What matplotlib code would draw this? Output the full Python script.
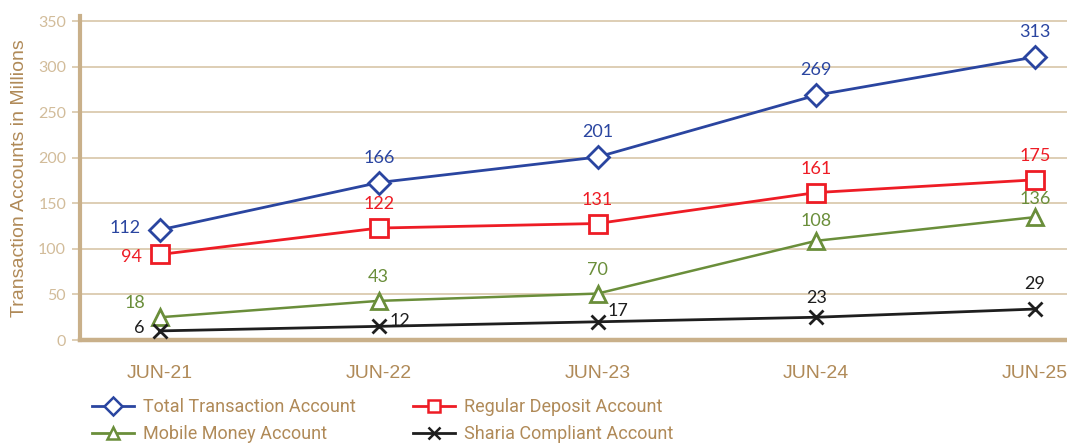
import matplotlib
matplotlib.use("Agg")
import matplotlib.pyplot as plt
from matplotlib.lines import Line2D

categories = ["JUN-21", "JUN-22", "JUN-23", "JUN-24", "JUN-25"]

total_vals = [121, 173, 201, 269, 311]
regular_vals = [94, 123, 128, 162, 176]
mobile_vals = [25, 43, 51, 109, 135]
sharia_vals = [10, 15, 20, 25, 34]

total_labels = ["112", "166", "201", "269", "313"]
regular_labels = ["94", "122", "131", "161", "175"]
mobile_labels = ["18", "43", "70", "108", "136"]
sharia_labels = ["6", "12", "17", "23", "29"]

series_names = ["Total Transaction Account", "Regular Deposit Account",
                "Mobile Money Account", "Sharia Compliant Account"]

plt.rcParams['font.family'] = ['Lato', 'DejaVu Sans']

BLUE = "#2a45a0"
RED = "#ee1c25"
GREEN = "#6a8e3a"
BLACK = "#1e1e1e"
TAN = "#c9b08a"
GRID = "#d8c6a8"
BROWN = "#b08a58"

fig = plt.figure(figsize=(10.67, 4.43), dpi=100)
ax = fig.add_axes([80/1067, 1-340/443, 1-80/1067, (340-16)/443])

x = list(range(len(categories)))

ax.plot(x, total_vals, color=BLUE, lw=2.0, marker='D', ms=11.5, mfc='white', mec=BLUE, mew=2.0, zorder=5)
ax.plot(x, regular_vals, color=RED, lw=2.0, marker='s', ms=13, mfc='white', mec=RED, mew=2.0, zorder=5)
ax.plot(x, mobile_vals, color=GREEN, lw=1.8, marker='^', ms=12, mfc='white', mec=GREEN, mew=2.0, zorder=5)
ax.plot(x, sharia_vals, color=BLACK, lw=2.0, marker='x', ms=9.5, mec=BLACK, mew=2.0, zorder=5)

fs = 13

def lab(xs, ys, texts, color, offs):
    for xi, yi, t, (dx, dy, ha) in zip(xs, ys, texts, offs):
        ax.annotate(t, (xi, yi), xytext=(dx, dy), textcoords='offset points',
                    ha=ha, va='center', color=color, fontsize=fs, zorder=6)

lab(x, total_vals, total_labels, BLUE,
    [(-14, 1, 'right'), (0, 18, 'center'), (0, 18, 'center'), (0, 18, 'center'), (0, 18, 'center')])
lab(x, regular_vals, regular_labels, RED,
    [(-13, -2, 'right'), (0, 17, 'center'), (0, 17, 'center'), (0, 17, 'center'), (0, 17, 'center')])
lab(x, mobile_vals, mobile_labels, GREEN,
    [(-18, 10, 'center'), (0, 17, 'center'), (0, 17, 'center'), (0, 14.5, 'center'), (0, 13, 'center')])
lab(x, sharia_vals, sharia_labels, BLACK,
    [(-15, 2, 'center'), (15, 4, 'center'), (15, 8, 'center'), (0, 14, 'center'), (0, 18, 'center')])

px_per_unit = (1035 - 160) / 4.0
ax.set_xlim(-(160 - 80) / px_per_unit, 4 + (1067 - 1035) / px_per_unit)
ax.set_ylim(0, 356)
ax.set_yticks(range(0, 351, 50))
ax.set_xticks(x)
ax.set_xticklabels(categories, family=['Liberation Sans', 'DejaVu Sans'])

ax.yaxis.grid(True, color=GRID, lw=1.2)
ax.set_axisbelow(True)
for s in ['top', 'right']:
    ax.spines[s].set_visible(False)
ax.spines['left'].set_color(TAN)
ax.spines['left'].set_linewidth(3)
ax.spines['bottom'].set_color(TAN)
ax.spines['bottom'].set_linewidth(3.2)

ax.tick_params(axis='y', colors=GRID, labelcolor="#d2bc9a", labelsize=11.5, length=6, width=1.2, pad=4)
ax.tick_params(axis='x', length=0, labelcolor=BROWN, labelsize=14, pad=18)

ax.set_ylabel("Transaction Accounts in Millions", color=BROWN, fontsize=14,
              family=['Liberation Sans', 'DejaVu Sans'])
ax.yaxis.set_label_coords(-52/987, 0.5)

handles = [
    Line2D([], [], color=BLUE, lw=2, marker='D', ms=9, mfc='white', mec=BLUE, mew=1.8),
    Line2D([], [], color=GREEN, lw=2, marker='^', ms=9, mfc='white', mec=GREEN, mew=1.8),
    Line2D([], [], color=RED, lw=2, marker='s', ms=9, mfc='white', mec=RED, mew=1.8),
    Line2D([], [], color=BLACK, lw=2, marker='x', ms=9, mec=BLACK, mew=1.8),
]
names = [series_names[0], series_names[2], series_names[1], series_names[3]]
leg = fig.legend(handles, names, ncol=2, loc='upper left',
                 bbox_to_anchor=(92/1067, 1-398/443), frameon=False,
                 prop={'family': ['Roboto', 'DejaVu Sans'], 'size': 13},
                 handlelength=2.3, handletextpad=0.5, columnspacing=3.2,
                 labelspacing=0.5, borderpad=0, borderaxespad=0)
for t in leg.get_texts():
    t.set_color(BROWN)

fig.savefig("out.png", dpi=100)
